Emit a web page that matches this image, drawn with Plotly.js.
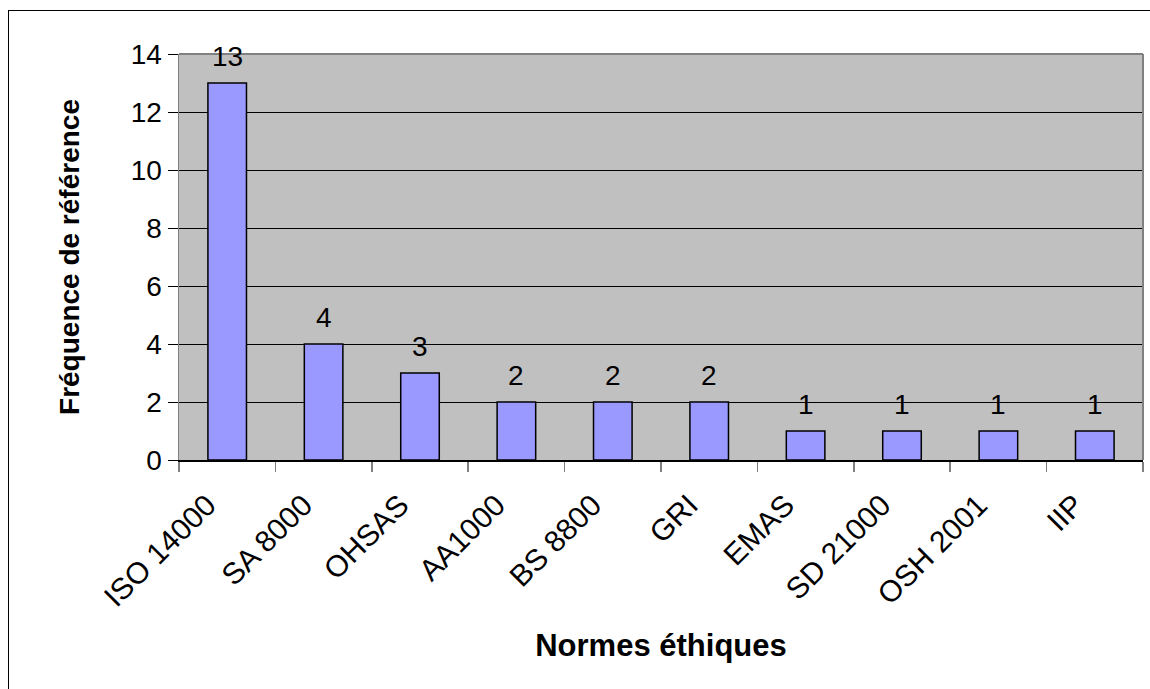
<!DOCTYPE html>
<html>
<head>
<meta charset="utf-8">
<script src="https://cdn.plot.ly/plotly-3.0.1.min.js"></script>
<style>
html,body{margin:0;padding:0;background:#fff;}
#chart{width:1150px;height:689px;position:relative;}
#frame{position:absolute;left:8px;top:10px;width:1200px;height:700px;border-left:1.5px solid #000;border-top:1.5px solid #000;pointer-events:none;z-index:10;}
</style>
</head>
<body>
<div id="chart"></div>
<div id="frame"></div>
<script>
const categories = ["ISO 14000","SA 8000","OHSAS","AA1000","BS 8800","GRI","EMAS","SD 21000","OSH 2001","IIP"];
const values = [13,4,3,2,2,2,1,1,1,1];
const yTicks = [0,2,4,6,8,10,12,14];
const xTitle = "Normes éthiques";
const yTitle = "Fréquence de référence";

const FONT = "Liberation Sans, Arial, sans-serif";

const trace = {
  type: "bar",
  x: categories,
  y: values,
  marker: {color: "#9999ff", line: {color: "#000000", width: 1.5}},
  hoverinfo: "x+y"
};

const annotations = categories.map((c, i) => ({
  x: c, y: values[i], xref: "x", yref: "y",
  text: String(values[i]), showarrow: false,
  yanchor: "bottom", yshift: 9,
  font: {family: FONT, size: 28, color: "#000"}
}));

const layout = {
  width: 1150, height: 689,
  margin: {l: 179, r: 7, t: 54, b: 229, pad: 0},
  paper_bgcolor: "#ffffff",
  plot_bgcolor: "#c0c0c0",
  bargap: 0.6,
  showlegend: false,
  font: {family: FONT, size: 28, color: "#000"},
  xaxis: {
    type: "category",
    tickson: "boundaries",
    ticks: "outside", ticklen: 10, tickcolor: "#808080", tickwidth: 1.5,
    showgrid: false,
    showline: true, linecolor: "#000000", linewidth: 1.5,
    mirror: false,
    tickangle: -45,
    ticklabelstandoff: 14,
    ticklabelshift: -20,
    tickfont: {family: FONT, size: 30, color: "#000"},
    title: {text: xTitle, font: {family: FONT, size: 31, color: "#000", weight: "bold"}, standoff: 22},
    automargin: false
  },
  yaxis: {
    range: [0, 14],
    tickvals: yTicks,
    ticktext: yTicks.map(String),
    ticks: "outside", ticklen: 10, tickcolor: "#000000", tickwidth: 1,
    showgrid: true, gridcolor: "#000000", gridwidth: 1,
    zeroline: false,
    showline: true, linecolor: "#808080", linewidth: 1.5,
    tickfont: {family: FONT, size: 28, color: "#000"},
    title: {text: yTitle, font: {family: FONT, size: 28, color: "#000", weight: "bold"}, standoff: 43},
    automargin: false
  },
  annotations: annotations,
  shapes: [
    {type: "line", xref: "paper", yref: "paper", x0: 0, x1: 1, y0: 1, y1: 1, line: {color: "#808080", width: 2}},
    {type: "line", xref: "paper", yref: "paper", x0: 1, x1: 1, y0: 0, y1: 1, line: {color: "#808080", width: 2}}
  ]
};

Plotly.newPlot("chart", [trace], layout, {displayModeBar: false, staticPlot: true});
</script>
</body>
</html>
